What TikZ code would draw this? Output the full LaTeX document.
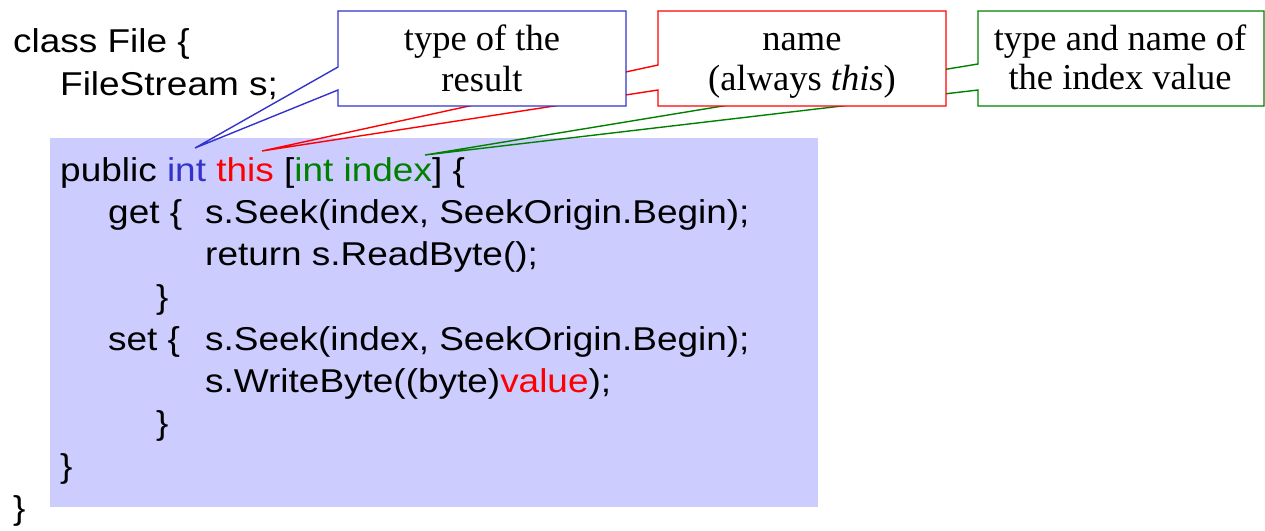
\documentclass[tikz,border=0pt]{standalone}
\usepackage{fontspec}
\setmainfont{Liberation Serif}
\newfontfamily\codefont[FakeStretch=1.12]{Liberation Sans}
\definecolor{cblue}{RGB}{51,51,204}
\definecolor{cred}{RGB}{255,0,0}
\definecolor{cgreen}{RGB}{0,128,0}
\definecolor{lav}{RGB}{204,204,255}
\begin{document}
\begin{tikzpicture}[x=1pt,y=-1pt,
  code/.style={anchor=base west, inner sep=0pt, font=\codefont\fontsize{33}{38}\selectfont},
  lbl/.style={anchor=base, inner sep=0pt, font=\fontsize{36.5}{41}\selectfont},
  callout/.style={line width=1.4pt, line join=miter}]
\useasboundingbox (0,0) rectangle (1265,530);
\fill[lav] (50,138) rectangle (818,507);

\coordinate (t1) at (195,148);
\coordinate (t2) at (262,151);
\coordinate (t3) at (425,155);

% callout 3 (green)
\coordinate (c3a) at (978,11);
\coordinate (c3b) at (1264,106);
\fill[white] (c3a) rectangle (c3b);
\draw[cgreen, callout] (978,64) -- (c3a) -- (1264,11) -- (c3b) -- (978,106) -- (978,90) -- (t3) -- cycle;
\node[lbl] (l3a) at (1120,50) {type and name of};
\node[lbl] (l3b) at (1120,89.5) {the index value};

% callout 2 (red)
\coordinate (c2a) at (658,11);
\coordinate (c2b) at (946,106);
\fill[white] (c2a) rectangle (c2b);
\draw[cred, callout] (658,65) -- (c2a) -- (946,11) -- (c2b) -- (658,106) -- (658,90) -- (t2) -- cycle;
\node[lbl] (l2a) at (802,50) {name};
\node[lbl] (l2b) at (802,90) {(always \textit{this})};

% callout 1 (blue)
\coordinate (c1a) at (338,11);
\coordinate (c1b) at (626,106);
\fill[white] (c1a) rectangle (c1b);
\draw[cblue, callout] (338,67) -- (c1a) -- (626,11) -- (c1b) -- (338,106) -- (338,90) -- (t1) -- cycle;
\node[lbl] (l1a) at (482,50) {type of the};
\node[lbl] (l1b) at (482,91.5) {result};

% code
\node[code] (k1) at (13,52) {class File \{};
\node[code] (k2) at (60,95) {FileStream s;};
\node[code] (k3) at (60,181) {public \textcolor{cblue}{int} \textcolor{cred}{this} [\textcolor{cgreen}{int index}] \{};
\node[code] (k4) at (108,223.3) {get \{};
\node[code] (k4b) at (205,223.3) {s.Seek(index, SeekOrigin.Begin);};
\node[code] (k5) at (205,265.6) {return s.ReadByte();};
\node[code] (k6) at (156,308) {\}};
\node[code] (k7) at (108,350.2) {set \{};
\node[code] (k7b) at (205,350.2) {s.Seek(index, SeekOrigin.Begin);};
\node[code] (k8) at (205,392.5) {s.WriteByte((byte)\textcolor{cred}{value});};
\node[code] (k9) at (156,434.8) {\}};
\node[code] (k10) at (60,477) {\}};
\node[code] (k11) at (13,519.4) {\}};
\end{tikzpicture}
\end{document}
